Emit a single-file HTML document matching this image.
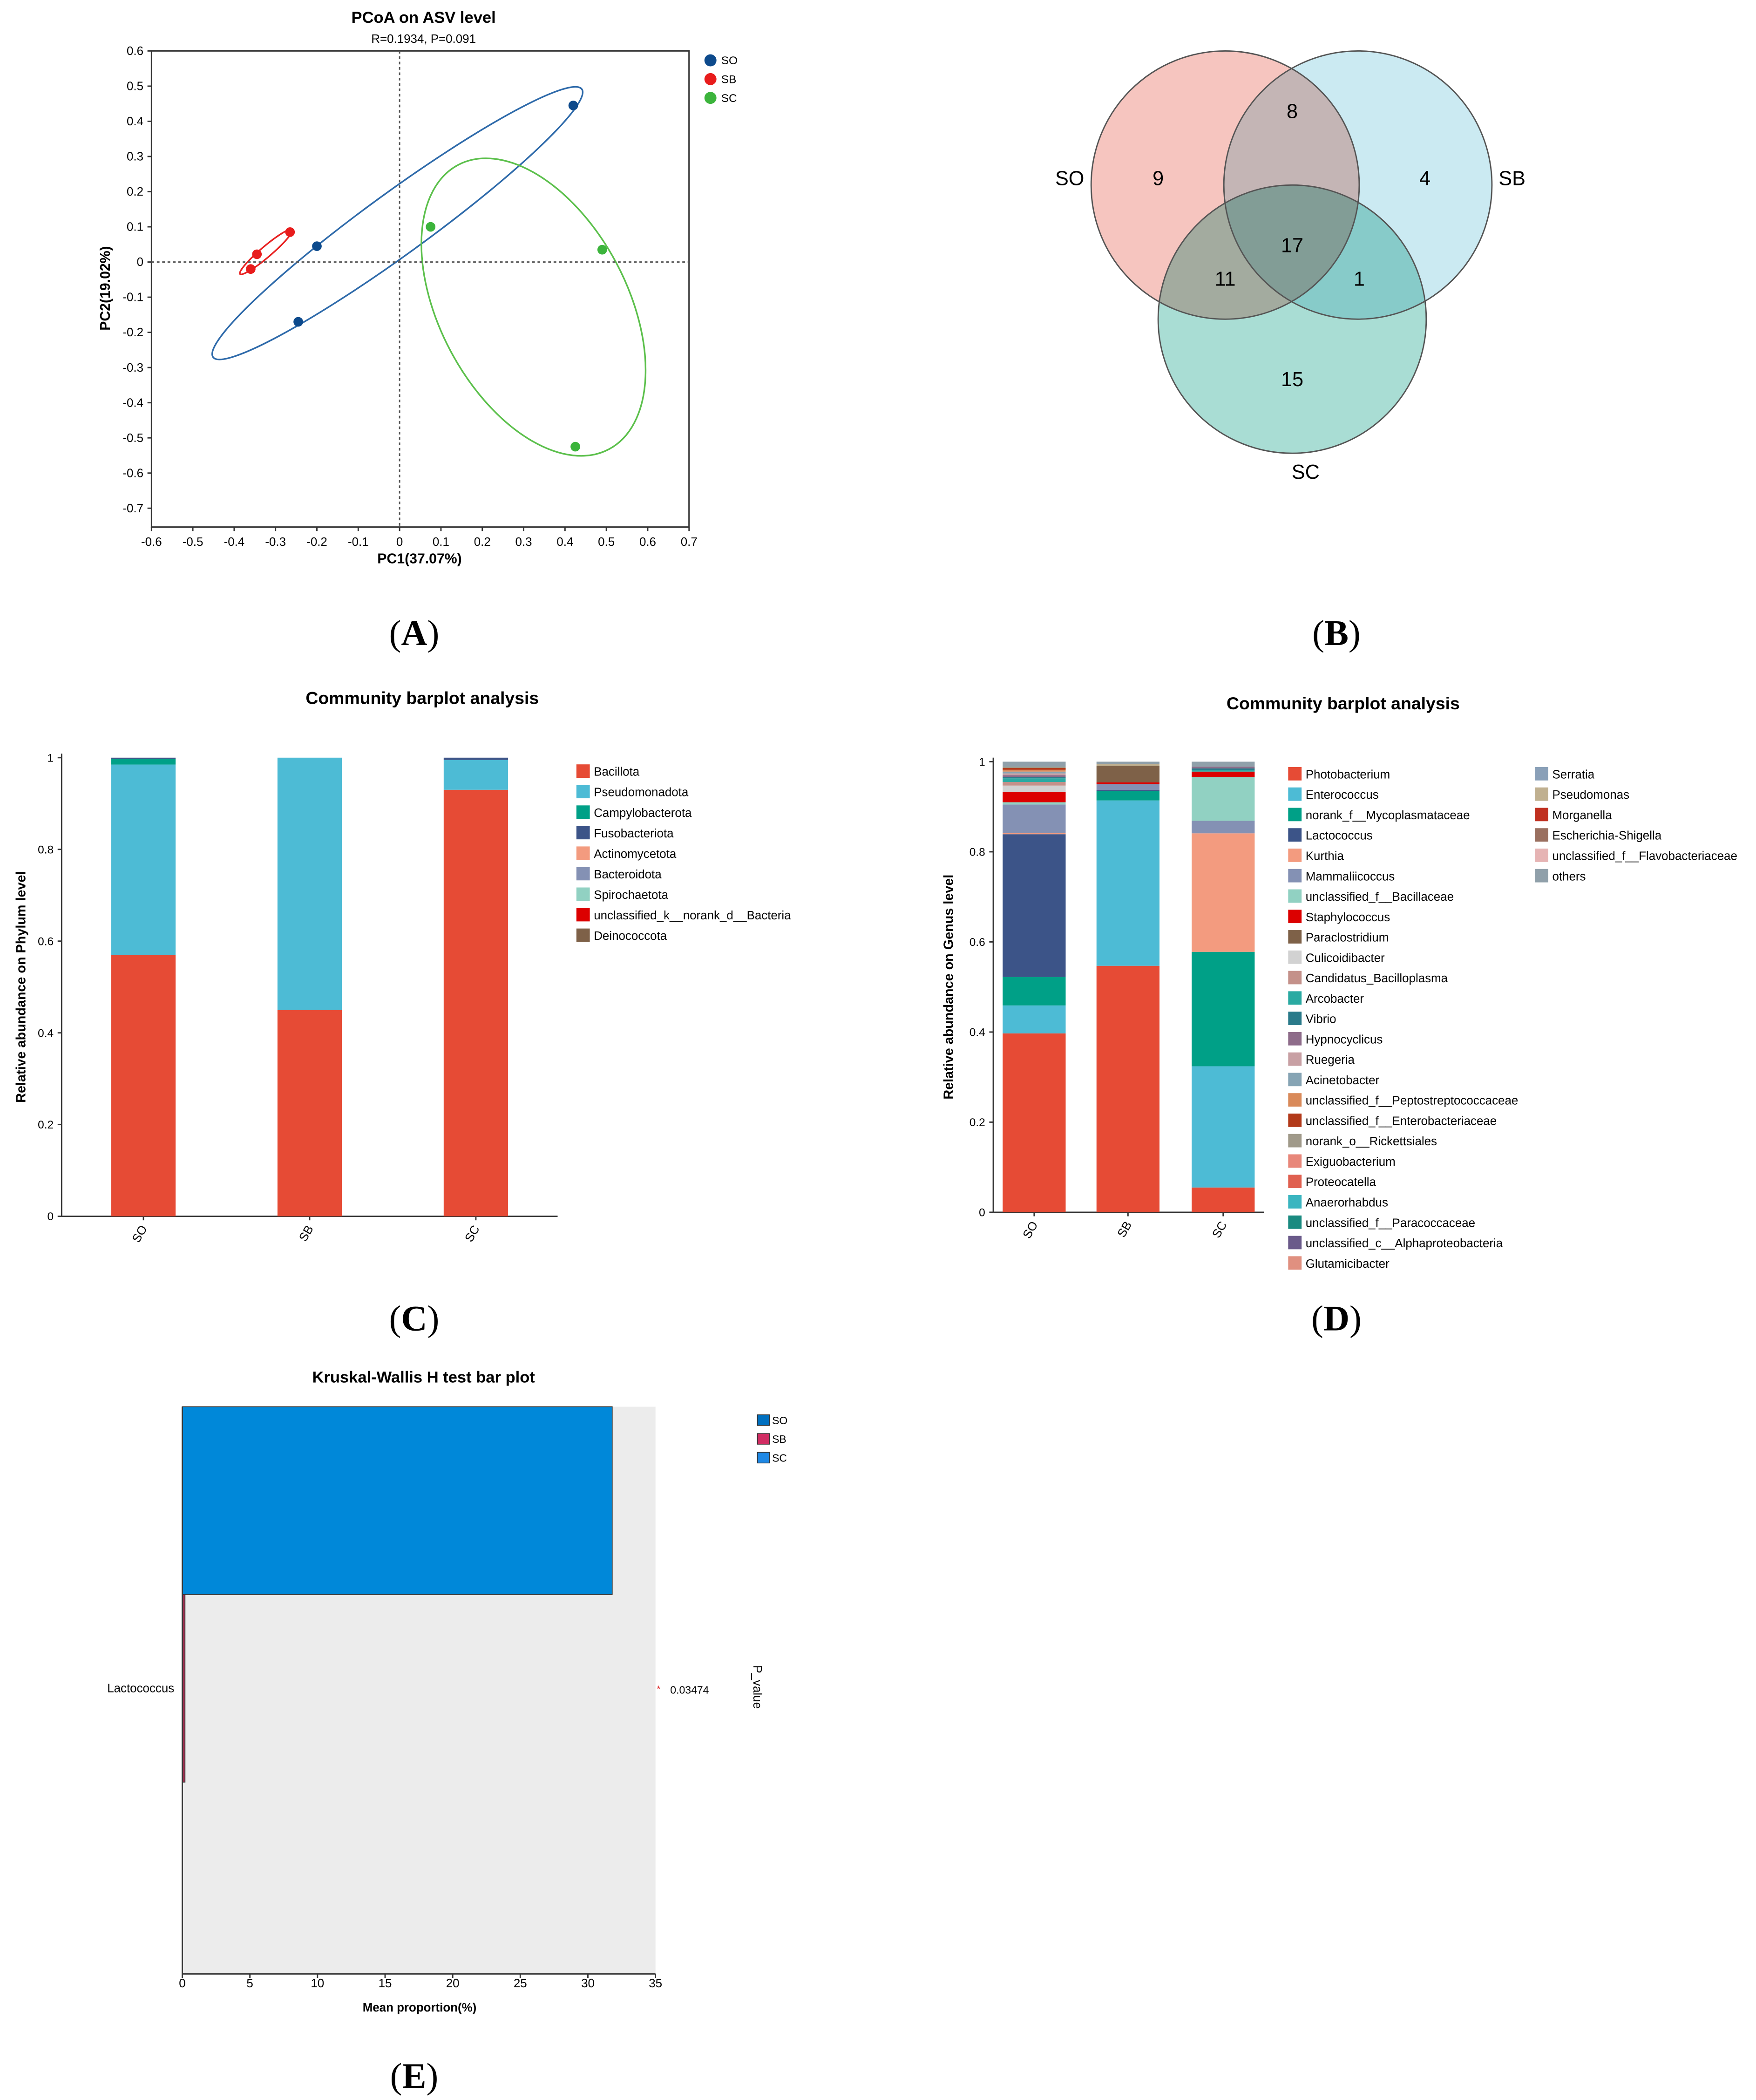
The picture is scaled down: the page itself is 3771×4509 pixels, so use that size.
<!DOCTYPE html>
<html><head><meta charset="utf-8"><style>
html,body{margin:0;padding:0;background:#fff;}
svg{display:block;font-family:"Liberation Sans",Arial,sans-serif;}
.cap{font-family:"Liberation Serif",serif;font-size:27px;}
</style></head><body>
<svg id="fig" width="3771" height="4509" viewBox="0 0 1310 1566" preserveAspectRatio="none" xmlns="http://www.w3.org/2000/svg">
<g id="pA">
<text x="316" y="17" text-anchor="middle" font-size="12" font-weight="bold">PCoA on ASV level</text>
<text x="316" y="32" text-anchor="middle" font-size="9">R=0.1934, P=0.091</text>
<rect x="113" y="38" width="401" height="355" fill="none" stroke="#333" stroke-width="1"/>
<text x="313" y="420" text-anchor="middle" font-size="10.5" font-weight="bold">PC1(37.07%)</text>
<text transform="translate(82,215) rotate(-90)" text-anchor="middle" font-size="10.5" font-weight="bold">PC2(19.02%)</text>
<ellipse cx="296.5" cy="166.4" rx="170" ry="23" transform="rotate(-36 296.5 166.4)" fill="none" stroke="#2e6aaa" stroke-width="1.2"/>
<ellipse cx="398" cy="229" rx="120" ry="70" transform="rotate(62 398 229)" fill="none" stroke="#5cc04c" stroke-width="1.2"/>
<ellipse cx="198.5" cy="187.8" rx="25.5" ry="4" transform="rotate(-40.4 198.5 187.8)" fill="none" stroke="#e82020" stroke-width="1.2"/>
<g id="pAgrid"></g><g id="pApts"></g>
<circle cx="530" cy="45" r="4.5" fill="#0d4a8c"/><text x="538" y="48" font-size="8.5">SO</text>
<circle cx="530" cy="59" r="4.5" fill="#e81c1c"/><text x="538" y="62" font-size="8.5">SB</text>
<circle cx="530" cy="73" r="4.5" fill="#3cb43c"/><text x="538" y="76" font-size="8.5">SC</text>
</g>
<g id="pB" font-size="15" text-anchor="middle">
<g style="isolation:isolate">
<circle cx="914" cy="138" r="100" fill="#f6c5bf" style="mix-blend-mode:multiply"/>
<circle cx="1013" cy="138" r="100" fill="#cbeaf2" style="mix-blend-mode:multiply"/>
<circle cx="964" cy="238" r="100" fill="#a9ddd4" style="mix-blend-mode:multiply"/>
</g>
<circle cx="914" cy="138" r="100" fill="none" stroke="#555"/>
<circle cx="1013" cy="138" r="100" fill="none" stroke="#555"/>
<circle cx="964" cy="238" r="100" fill="none" stroke="#555"/>
<text x="864" y="138">9</text>
<text x="964" y="88">8</text>
<text x="1063" y="138">4</text>
<text x="964" y="188">17</text>
<text x="914" y="213">11</text>
<text x="1014" y="213">1</text>
<text x="964" y="288">15</text>
<text x="798" y="138">SO</text>
<text x="1128" y="138">SB</text>
<text x="974" y="357">SC</text>
</g>
<text class="cap" x="309" y="481" text-anchor="middle">(<tspan font-weight="bold">A</tspan>)</text>
<text class="cap" x="997" y="481" text-anchor="middle">(<tspan font-weight="bold">B</tspan>)</text>
<text class="cap" x="309" y="992" text-anchor="middle">(<tspan font-weight="bold">C</tspan>)</text>
<text class="cap" x="997" y="992" text-anchor="middle">(<tspan font-weight="bold">D</tspan>)</text>
<text class="cap" x="309" y="1557" text-anchor="middle">(<tspan font-weight="bold">E</tspan>)</text>
<g id="pC">
<text x="315" y="525" text-anchor="middle" font-size="13" font-weight="bold">Community barplot analysis</text>
<text transform="translate(19,736) rotate(-90)" text-anchor="middle" font-size="10" font-weight="bold">Relative abundance on Phylum level</text>
</g>
<g id="pD">
<text x="1002" y="529" text-anchor="middle" font-size="13" font-weight="bold">Community barplot analysis</text>
<text transform="translate(711,736) rotate(-90)" text-anchor="middle" font-size="10" font-weight="bold">Relative abundance on Genus level</text>
</g>
<g id="pE">
<text x="316" y="1031" text-anchor="middle" font-size="12" font-weight="bold">Kruskal-Wallis H test bar plot</text>
<rect x="136" y="1049" width="353" height="423" fill="#ececec"/>
<text x="313" y="1500" text-anchor="middle" font-size="9" font-weight="bold">Mean proportion(%)</text>
<text x="130" y="1262" text-anchor="end" font-size="9">Lactococcus</text>
<text transform="translate(562,1258) rotate(90)" text-anchor="middle" font-size="9">P_value</text>
<text x="490" y="1262" font-size="7" fill="#e02020">*</text>
<text x="500" y="1263" font-size="8">0.03474</text>
<rect x="565" y="1055" width="9" height="8" fill="#0070c0" stroke="#333" stroke-width="0.5"/><text x="576" y="1062" font-size="8">SO</text>
<rect x="565" y="1069" width="9" height="8" fill="#d12d63" stroke="#333" stroke-width="0.5"/><text x="576" y="1076" font-size="8">SB</text>
<rect x="565" y="1083" width="9" height="8" fill="#1e88e5" stroke="#333" stroke-width="0.5"/><text x="576" y="1090" font-size="8">SC</text>
</g>
</svg>
<script>
const NS="http://www.w3.org/2000/svg";
// ---- PCoA data ----
const pcoaGroups=["SO","SB","SC"];
const pcoaColors=["#0d4a8c","#e81c1c","#3cb43c"];
const soPC1=[0.42,-0.20,-0.245];
const soPC2=[0.445,0.045,-0.17];
const sbPC1=[-0.265,-0.345,-0.36];
const sbPC2=[0.085,0.022,-0.02];
const scPC1=[0.075,0.49,0.425];
const scPC2=[0.10,0.035,-0.525];
const pcoaXTicks=[-0.6,-0.5,-0.4,-0.3,-0.2,-0.1,0,0.1,0.2,0.3,0.4,0.5,0.6,0.7];
const pcoaYTicks=[0.6,0.5,0.4,0.3,0.2,0.1,0,-0.1,-0.2,-0.3,-0.4,-0.5,-0.6,-0.7];
// ---- Phylum data ----
const samples=["SO","SB","SC"];
const phyla=["Bacillota","Pseudomonadota","Campylobacterota","Fusobacteriota","Actinomycetota","Bacteroidota","Spirochaetota","unclassified_k__norank_d__Bacteria","Deinococcota"];
const phylaColors=["#e64b35","#4dbbd5","#00a087","#3c5488","#f39b7f","#8491b4","#91d1c2","#dc0000","#7e6148"];
const phylumSO=[0.57,0.415,0.012,0.003,0,0,0,0,0];
const phylumSB=[0.45,0.55,0,0,0,0,0,0,0];
const phylumSC=[0.93,0.065,0,0.005,0,0,0,0,0];
const abundTicks=[0,0.2,0.4,0.6,0.8,1];
// ---- Genus data ----
const genera=["Photobacterium","Enterococcus","norank_f__Mycoplasmataceae","Lactococcus","Kurthia","Mammaliicoccus","unclassified_f__Bacillaceae","Staphylococcus","Paraclostridium","Culicoidibacter","Candidatus_Bacilloplasma","Arcobacter","Vibrio","Hypnocyclicus","Ruegeria","Acinetobacter","unclassified_f__Peptostreptococcaceae","unclassified_f__Enterobacteriaceae","norank_o__Rickettsiales","Exiguobacterium","Proteocatella","Anaerorhabdus","unclassified_f__Paracoccaceae","unclassified_c__Alphaproteobacteria","Glutamicibacter","Serratia","Pseudomonas","Morganella","Escherichia-Shigella","unclassified_f__Flavobacteriaceae","others"];
const genusColors=["#e64b35","#4dbbd5","#00a087","#3c5488","#f39b7f","#8491b4","#91d1c2","#dc0000","#7e6148","#d2d2d2","#c4918a","#2aaaa2","#2a7a8a","#8e6c8a","#c8a0a4","#86a4b4","#d98a5a","#b23a1a","#a09a8a","#e8877a","#e06050","#3ab5c0","#1a8a80","#6a5a8a","#e09080","#8aa0b8","#c0b090","#c03020","#9a7060","#e6b4b4","#90a0aa"];
const genusSO=[0.397,0.062,0.063,0.317,0.003,0.063,0.005,0.023,0,0.014,0.008,0.008,0.003,0.004,0.004,0.004,0.004,0.004,0.003,0,0,0,0,0,0,0,0,0,0,0,0.011];
const genusSB=[0.547,0.367,0.021,0.002,0,0.013,0,0.004,0.037,0,0,0,0,0,0,0,0,0,0,0,0,0,0,0,0,0,0.004,0,0,0,0.005];
const genusSC=[0.055,0.269,0.254,0,0.263,0.028,0.097,0.012,0,0,0,0.003,0.004,0.004,0,0,0,0,0,0,0,0,0,0,0,0,0,0,0,0,0.011];
// ---- Kruskal data ----
const kwTaxa=["Lactococcus"];
const kwSO=[0.0];
const kwSB=[0.2];
const kwSC=[31.8];
const kwTicks=[0,5,10,15,20,25,30,35];

function mk(tag,parent){const e=document.createElementNS(NS,tag);parent.appendChild(e);return e;}
function txt(parent,x,y,s,size,anchor){const t=mk("text",parent);t.setAttribute("x",x);t.setAttribute("y",y);t.setAttribute("font-size",size);if(anchor)t.setAttribute("text-anchor",anchor);t.textContent=s;return t;}

// ===== Panel A =====
(function(){
const g=document.getElementById("pAgrid"),gp=document.getElementById("pApts");
const xs=v=>113+(v+0.6)*308.5, ys=v=>38+(0.6-v)*262.3;
pcoaXTicks.forEach(v=>{
 const l=mk("line",g);l.setAttribute("x1",xs(v));l.setAttribute("x2",xs(v));l.setAttribute("y1",393);l.setAttribute("y2",396);l.setAttribute("stroke","#333");
 
 
 const t=txt(g,xs(v),407,String(v),9,"middle");
 
 
});
pcoaYTicks.forEach(v=>{
 const l=mk("line",g);l.setAttribute("x1",110);l.setAttribute("x2",113);l.setAttribute("y1",ys(v));l.setAttribute("y2",ys(v));l.setAttribute("stroke","#333");
 
 
 const t=txt(g,107,ys(v)+3,String(v),9,"end");
 
 
});
const h=mk("line",g);h.setAttribute("x1",113);h.setAttribute("x2",514);h.setAttribute("y1",ys(0));h.setAttribute("y2",ys(0));h.setAttribute("stroke","#555");h.setAttribute("stroke-dasharray","2,2");


const v=mk("line",g);v.setAttribute("x1",xs(0));v.setAttribute("x2",xs(0));v.setAttribute("y1",38);v.setAttribute("y2",393);v.setAttribute("stroke","#555");v.setAttribute("stroke-dasharray","2,2");


const sets=[[soPC1,soPC2],[sbPC1,sbPC2],[scPC1,scPC2]];
sets.forEach((s,gi)=>{s[0].forEach((x,i)=>{
 const c=mk("circle",gp);c.setAttribute("cx",xs(x));c.setAttribute("cy",ys(s[1][i]));c.setAttribute("r",3.6);c.setAttribute("fill",pcoaColors[gi]);
 
 
});});
})();

// ===== stacked bar helper =====
function stacked(gid,opts){
const g=document.getElementById(gid);
const ys=v=>opts.y0-(v)*(opts.y0-opts.y1);
const ax=mk("line",g);ax.setAttribute("x1",opts.ax);ax.setAttribute("x2",opts.ax);ax.setAttribute("y1",opts.y1-3);ax.setAttribute("y2",opts.y0);ax.setAttribute("stroke","#333");


const bx=mk("line",g);bx.setAttribute("x1",opts.ax);bx.setAttribute("x2",opts.axEnd);bx.setAttribute("y1",opts.y0);bx.setAttribute("y2",opts.y0);bx.setAttribute("stroke","#333");


abundTicks.forEach(v=>{
 const l=mk("line",g);l.setAttribute("x1",opts.ax-3);l.setAttribute("x2",opts.ax);l.setAttribute("y1",ys(v));l.setAttribute("y2",ys(v));l.setAttribute("stroke","#333");
 
 
 const t=txt(g,opts.ax-6,ys(v)+3,String(v),8.5,"end");
 
 
});
opts.data.forEach((arr,si)=>{
 let acc=0;const x=opts.bx[si];
 arr.forEach((val,k)=>{
  if(val<=0)return;
  const r=mk("rect",g);r.setAttribute("x",x);r.setAttribute("width",opts.bw);
  r.setAttribute("y",ys(acc+val));r.setAttribute("height",ys(acc)-ys(acc+val));r.setAttribute("fill",opts.colors[k]);
  
  
  acc+=val;
 });
 const cx=x+opts.bw/2;
 const l=mk("line",g);l.setAttribute("x1",cx);l.setAttribute("x2",cx);l.setAttribute("y1",opts.y0);l.setAttribute("y2",opts.y0+3);l.setAttribute("stroke","#333");
 
 
 const t=txt(g,0,0,samples[si],9,"end");t.setAttribute("transform","translate("+(cx+3)+","+(opts.y0+9)+") rotate(-60)");
 
 
});
opts.names.forEach((n,k)=>{
 const col=Math.floor(k/opts.perCol),row=k%opts.perCol;
 const lx=opts.lx[col],ly=opts.ly+row*opts.ld;
 const r=mk("rect",g);r.setAttribute("x",lx);r.setAttribute("y",ly-5);r.setAttribute("width",10);r.setAttribute("height",10);r.setAttribute("fill",opts.colors[k]);
 
 
 const t=txt(g,lx+13,ly+3.5,n,9);
 
 
});
}
stacked("pC",{y0:907,y1:565,ax:46,axEnd:416,bx:[83,207,331],bw:48,data:[phylumSO,phylumSB,phylumSC],names:phyla,colors:phylaColors,perCol:9,lx:[430],ly:575,ld:15.3});
stacked("pD",{y0:904,y1:568,ax:741,axEnd:943,bx:[748,818,889],bw:47,data:[genusSO,genusSB,genusSC],names:genera,colors:genusColors,perCol:25,lx:[961,1145],ly:577,ld:15.2});

// ===== Panel E =====
(function(){
const g=document.getElementById("pE");
const xs=v=>136+v*(353/35);
const rows=[["SC",kwSC,"#0088d9",1049],["SB",kwSB,"#a03050",1189],["SO",kwSO,"#0070c0",1329]];
rows.forEach(r=>{
 const w=xs(r[1][0])-136; if(w<=0)return;
 const b=mk("rect",g);b.setAttribute("x",136);b.setAttribute("y",r[3]);b.setAttribute("width",w);b.setAttribute("height",140);b.setAttribute("fill",r[2]);b.setAttribute("stroke","#333");b.setAttribute("stroke-width","0.6");
 
 
});
const ay=mk("line",g);ay.setAttribute("x1",136);ay.setAttribute("x2",136);ay.setAttribute("y1",1049);ay.setAttribute("y2",1472);ay.setAttribute("stroke","#333");


const axl=mk("line",g);axl.setAttribute("x1",136);axl.setAttribute("x2",489);axl.setAttribute("y1",1472);axl.setAttribute("y2",1472);axl.setAttribute("stroke","#333");


kwTicks.forEach(v=>{
 const l=mk("line",g);l.setAttribute("x1",xs(v));l.setAttribute("x2",xs(v));l.setAttribute("y1",1472);l.setAttribute("y2",1475);l.setAttribute("stroke","#333");
 
 
 const t=txt(g,xs(v),1482,String(v),9,"middle");
 
 
});
})();
</script>
</body></html>
